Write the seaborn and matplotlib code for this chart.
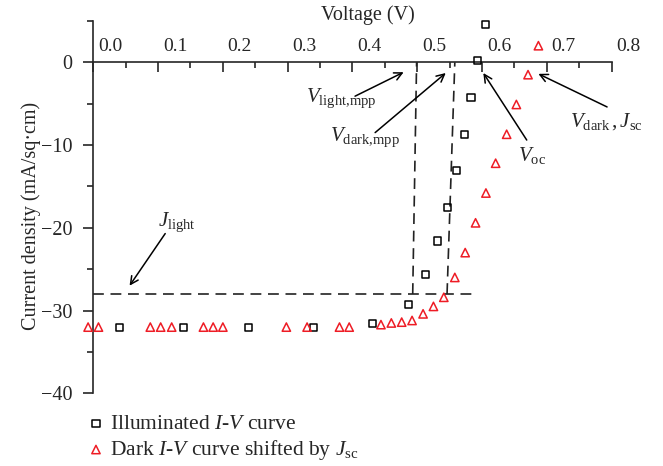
import numpy as np
import pandas as pd
import matplotlib
matplotlib.use("Agg")
import matplotlib.pyplot as plt
from matplotlib.transforms import ScaledTranslation
import seaborn as sns

# Illuminated I-V curve (black squares)
light_v = [0.040, 0.139, 0.239, 0.340, 0.431, 0.486, 0.513, 0.531, 0.547,
           0.560, 0.573, 0.583, 0.593, 0.605]
light_j = [-32.0, -32.0, -32.0, -32.0, -31.6, -29.3, -25.7, -21.6, -17.5,
           -13.1, -8.7, -4.3, 0.2, 4.6]

# Dark I-V curve shifted by Jsc (red triangles)
dark_v = [-0.008, 0.008, 0.088, 0.104, 0.121, 0.170, 0.185, 0.200, 0.298,
          0.330, 0.380, 0.395, 0.444, 0.460, 0.476, 0.492, 0.509, 0.525,
          0.541, 0.558, 0.574, 0.590, 0.606, 0.621, 0.638, 0.653, 0.671, 0.687]
dark_j = [-32.0, -32.0, -32.0, -32.0, -32.0, -32.0, -32.0, -32.0, -32.0,
          -32.0, -32.0, -32.0, -31.7, -31.5, -31.4, -31.2, -30.4, -29.5,
          -28.4, -26.0, -23.0, -19.4, -15.8, -12.2, -8.7, -5.1, -1.5, 2.0]

# dashed guide lines
j_light_line_v = [0.0, 0.586]
j_light_line_j = [-28.0, -28.0]
v_light_mpp_v = [0.493, 0.499]
v_dark_mpp_v = [0.546, 0.558]
mpp_line_j = [-28.0, 0.0]

x_ticks = [0.0, 0.1, 0.2, 0.3, 0.4, 0.5, 0.6, 0.7, 0.8]
x_minor = [0.05, 0.15, 0.25, 0.35, 0.45, 0.55, 0.65, 0.75]
y_ticks = [-40, -30, -20, -10, 0]
y_minor = [-35, -25, -15, -5, 5]

# annotations: label, text position, arrow tail, arrow head
notes = [
    (r"$V_{\mathrm{light{,}mpp}}$", (0.328, -4.4), (0.404, -4.1), (0.479, -1.2)),
    (r"$V_{\mathrm{dark{,}mpp}}$", (0.365, -9.1), (0.435, -8.5), (0.544, -1.3)),
    (r"$V_{\mathrm{oc}}$", (0.655, -11.3), (0.669, -9.4), (0.602, -1.3)),
    (r"$V_{\mathrm{dark}}\,,J_{\mathrm{sc}}$", (0.736, -7.2), (0.793, -5.4), (0.687, -1.4)),
    (r"$J_{\mathrm{light}}$", (0.100, -19.3), (0.111, -20.7), (0.056, -27.0)),
]

sns.set_style("ticks")
plt.rcParams["font.family"] = ["Liberation Serif", "DejaVu Serif"]
plt.rcParams["mathtext.fontset"] = "custom"
plt.rcParams["mathtext.rm"] = "Liberation Serif"
plt.rcParams["mathtext.it"] = "Liberation Serif:italic"
plt.rcParams["axes.unicode_minus"] = True

fig = plt.figure(figsize=(6.63, 4.66), dpi=100)
ax = fig.add_axes([0.1407, 0.156, 0.7818, 0.7992])

red = "#ee1c25"
light = pd.DataFrame({"v": light_v, "j": light_j})
dark = pd.DataFrame({"v": dark_v, "j": dark_j})

sns.scatterplot(data=light, x="v", y="j", marker="s", s=26, facecolor="none",
                edgecolor="black", linewidth=1.1, ax=ax, clip_on=False,
                label=r"Illuminated $I$-$V$ curve", zorder=3)
sns.scatterplot(data=dark, x="v", y="j", marker="^", s=36, facecolor="none",
                edgecolor=red, linewidth=1.1, ax=ax, clip_on=False,
                label=r"Dark $I$-$V$ curve shifted by $J_{\mathrm{sc}}$", zorder=3)

dash = dict(color="#222222", lw=1.2, linestyle=(0, (6.5, 4)), zorder=2)
ax.plot(j_light_line_v, j_light_line_j, **dash)
ax.plot(v_light_mpp_v, mpp_line_j, **dash)
ax.plot(v_dark_mpp_v, mpp_line_j, **dash)

for label, txt, tail, head in notes:
    ax.annotate("", xy=head, xytext=tail,
                arrowprops=dict(arrowstyle="->", color="black", lw=1.1,
                                shrinkA=0, shrinkB=0, mutation_scale=14))
    ax.text(txt[0], txt[1], label, fontsize=15, ha="left", va="center")

ax.set_xlim(0, 0.8)
ax.set_ylim(-40, 5)

ax.spines["right"].set_visible(False)
ax.spines["bottom"].set_visible(False)
ax.spines["top"].set_position(("data", 0))
ax.spines["left"].set_position(("data", 0))
ax.spines["top"].set_linewidth(1.2)
ax.spines["left"].set_linewidth(1.2)

ax.xaxis.tick_top()
ax.xaxis.set_label_position("top")
ax.set_xticks(x_ticks)
ax.set_xticks(x_minor, minor=True)
ax.set_xticklabels([f"{t:.1f}" for t in x_ticks])
ax.set_yticks(y_ticks)
ax.set_yticks(y_minor, minor=True)
ax.set_yticklabels([f"\u2212{-t}" if t < 0 else f"{t}" for t in y_ticks])

ax.tick_params(axis="x", which="major", direction="in", length=7, width=1.2,
               labelsize=14, pad=5)
ax.tick_params(axis="x", which="minor", direction="in", length=4, width=1.2)
ax.tick_params(axis="y", which="major", direction="out", length=7, width=1.2,
               labelsize=14.5, pad=8)
ax.tick_params(axis="y", which="minor", direction="out", length=4, width=1.2)

# tick labels in the source sit to the right of their ticks
shift = ScaledTranslation(17 / 100, 0, fig.dpi_scale_trans)
for lbl in ax.get_xticklabels():
    lbl.set_transform(lbl.get_transform() + shift)

ax.set_xlabel("Voltage (V)", fontsize=14.5)
ax.xaxis.set_label_coords(0.53, 1.015)
ax.xaxis.label.set_va("center")
ax.set_ylabel("Current density (mA/sq\u00b7cm)", fontsize=14.5)
ax.yaxis.set_label_coords(-0.12, 0.475)
ax.yaxis.label.set_va("center")

ax.legend(loc="upper left", bbox_to_anchor=(0.135, 0.112),
          bbox_transform=fig.transFigure, frameon=False, fontsize=15.5,
          borderaxespad=0, borderpad=0, handlelength=0.6, handletextpad=0.35,
          labelspacing=0.2)

fig.savefig("out.png", dpi=100)
